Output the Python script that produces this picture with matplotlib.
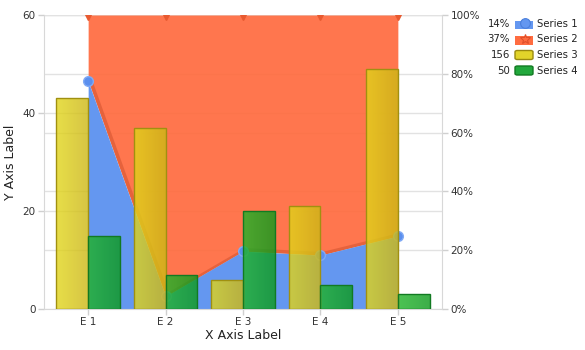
import numpy as np
import matplotlib
matplotlib.use("Agg")
import matplotlib.pyplot as plt
from matplotlib.patches import Rectangle, FancyBboxPatch
from matplotlib.colors import LinearSegmentedColormap
from matplotlib import transforms

categories = ["E 1", "E 2", "E 3", "E 4", "E 5"]
series1 = [46.5, 2.6, 11.8, 11.0, 14.9]
series2 = [13.5, 57.4, 48.2, 49.0, 45.1]
series3 = [43, 37, 6, 21, 49]
series4 = [15, 7, 20, 5, 3]
legend_names = ["Series 1", "Series 2", "Series 3", "Series 4"]
legend_values = ["14%", "37%", "156", "50"]

blue = "#6497f0"
orange = "#ff6c40"

fig = plt.figure(figsize=(5.85, 3.5), dpi=100)
ax = fig.add_axes([44 / 585, 1 - 309 / 350, (442 - 44) / 585, (309 - 15) / 350])

x = np.arange(len(categories))
s1 = np.array(series1)
s2 = np.array(series2)
total = s1 + s2
# percent stacked area, drawn in left-axis units (100% == 60)
top1 = s1 / total * 60
top2 = (s1 + s2) / total * 60

ax.fill_between(x, top1, top2, color=orange, lw=0, alpha=0.93, zorder=2)
shadow = transforms.offset_copy(ax.transData, fig=fig, x=1.5, y=1.0, units="points")
ax.plot(x, top1, color="#c84a28", lw=2.5, alpha=0.45, transform=shadow, zorder=2.1)
ax.fill_between(x, 0, top1, color=blue, lw=0, zorder=2.2)
ax.plot(x, top1, "o", ms=7, color="#5b8fee", mec="#80aaf5", mew=1, zorder=3, clip_on=False)
ax.plot(x, top2, "v", ms=7, color="#e85a30", zorder=3)

yellow_cm = LinearSegmentedColormap.from_list("y", ["#e2d61a", "#cdb815"])
green_cm = LinearSegmentedColormap.from_list("g", ["#20b428", "#0c9a1c"])
grad = np.linspace(0, 1, 64).reshape(1, -1)

w = 0.41
bars3 = ax.bar(x - w / 2, series3, w, color="none", edgecolor="#a09010", lw=1, zorder=4.1)
bars4 = ax.bar(x + w / 2, series4, w, color="none", edgecolor="#127a22", lw=1, zorder=4.1)
for bars, cm in [(bars3, yellow_cm), (bars4, green_cm)]:
    for b in bars:
        x0, y0 = b.get_x(), b.get_y()
        im = ax.imshow(grad, cmap=cm, extent=(x0, x0 + b.get_width(), y0, y0 + b.get_height()),
                       aspect="auto", alpha=0.8, zorder=4, interpolation="bilinear")
        im.set_clip_path(b)

ax.set_xlim(-0.57, 4.57)
ax.set_ylim(0, 60)
ax.set_yticks([0, 20, 40, 60])
ax.set_xticks(x)
ax.set_xticklabels(categories)
for yv in [0, 20, 40, 60]:
    ax.axhline(yv, color="#e2e2e2", lw=1, zorder=0)
for p in [20, 40, 60, 80, 100]:
    ax.axhline(p * 0.6, color="#e2e2e2", lw=1, zorder=0)

sec = ax.secondary_yaxis("right", functions=(lambda v: v / 60 * 100, lambda p: p * 60 / 100))
sec.set_yticks([0, 20, 40, 60, 80, 100])
sec.set_yticklabels([f"{p}%" for p in [0, 20, 40, 60, 80, 100]])

for a in (ax, sec):
    a.tick_params(labelsize=7.5, colors="#d0d0d0", labelcolor="#333333", length=4, width=1, pad=2)
ax.spines["top"].set_visible(False)
ax.spines["right"].set_visible(False)
ax.spines["left"].set_color("#d8d8d8")
ax.spines["bottom"].set_color("#d8d8d8")
sec.spines["right"].set_color("#d8d8d8")

ax.set_xlabel("X Axis Label", fontsize=9, color="#222222", labelpad=1)
ax.set_ylabel("Y Axis Label", fontsize=9, color="#222222", labelpad=4)

# legend on the right
icon_cols = [(blue, "#4a7fdc"), (orange, "#e0502a"), ("#e2d42a", "#9a8a10"), ("#22a83c", "#127a22")]
for i, name in enumerate(legend_names):
    yc = 1 - (24 + i * 15.5) / 350
    fig.text(510 / 585, yc, legend_values[i], ha="right", va="center", fontsize=7.3, color="#222222")
    fig.text(537 / 585, yc, name, ha="left", va="center", fontsize=7.3, color="#222222")
    fc, ec = icon_cols[i]
    if i < 2:
        box = Rectangle((515 / 585, yc - 5 / 350), 18 / 585, 8 / 350, transform=fig.transFigure,
                        fc=fc, ec="none")
        fig.patches.append(box)
        mk = "o" if i == 0 else "*"
        fig.lines.append(plt.Line2D([525 / 585], [yc + 1 / 350], marker=mk, ms=7, color=fc,
                                    mec=ec, mew=0.8, transform=fig.transFigure))
    else:
        box = FancyBboxPatch((515 / 585, yc - 4.5 / 350), 18 / 585, 9 / 350,
                             boxstyle="round,pad=0,rounding_size=0.004", transform=fig.transFigure,
                             fc=fc, ec=ec, lw=1)
        fig.patches.append(box)

fig.savefig("out.png", dpi=100)
